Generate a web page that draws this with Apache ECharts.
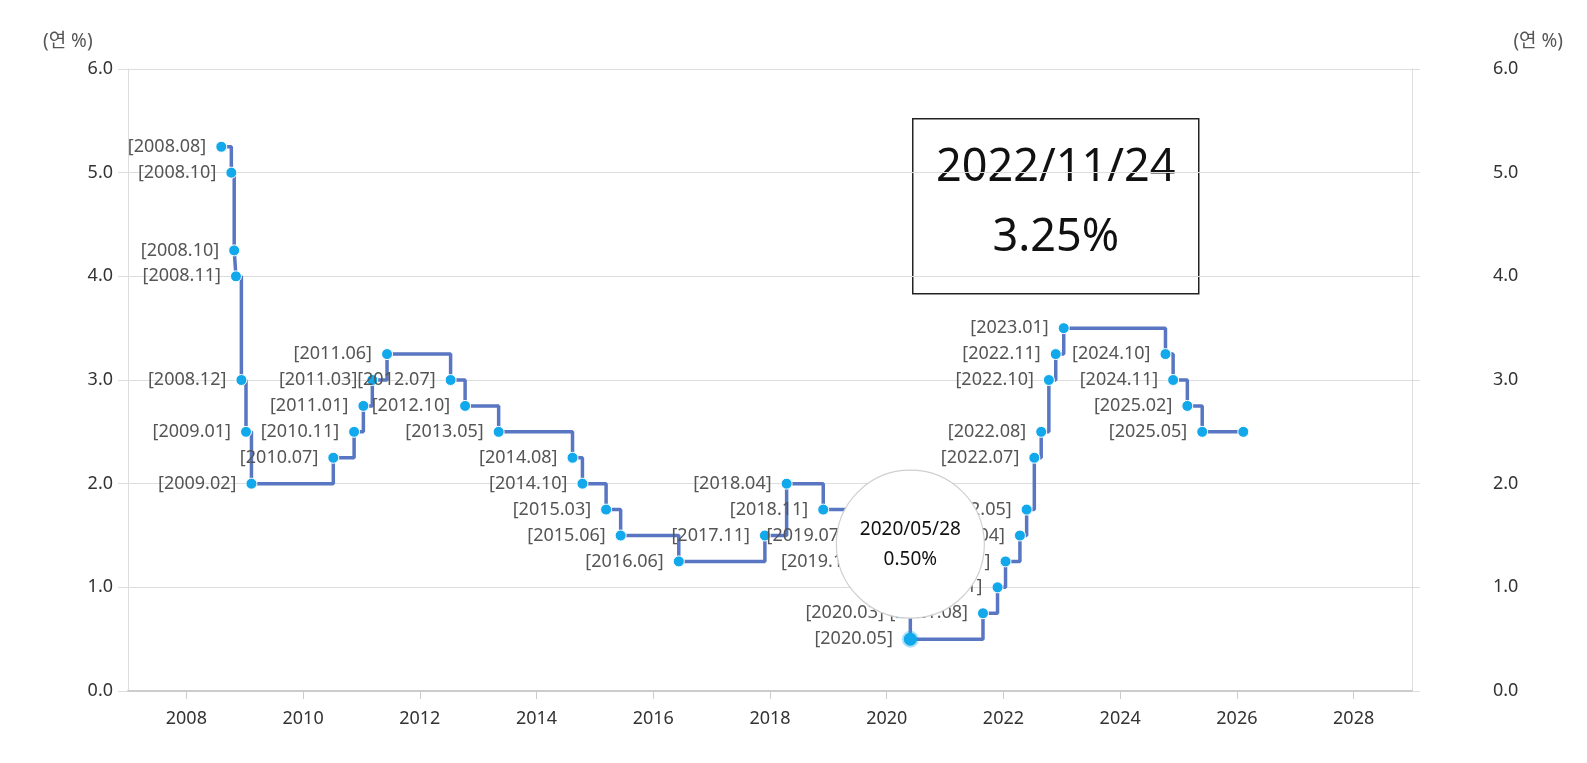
<!DOCTYPE html>
<html>
<head>
<meta charset="utf-8">
<script src="https://cdn.jsdelivr.net/npm/echarts@6/dist/echarts.min.js"></script>
<style>
  html, body { margin: 0; padding: 0; background: #fff; }
  #chart { width: 1587px; height: 763px; }
</style>
</head>
<body>
<div id="chart"></div>
<script>
// ---- data ----
const dates = [
  '2008-08-07','2008-10-09','2008-10-27','2008-11-07','2008-12-11','2009-01-09','2009-02-12',
  '2010-07-09','2010-11-16','2011-01-13','2011-03-10','2011-06-10','2012-07-12','2012-10-11',
  '2013-05-09','2014-08-14','2014-10-15','2015-03-12','2015-06-11','2016-06-09','2017-11-30',
  '2018-04-15','2018-11-30','2019-07-18','2019-10-16','2020-03-17','2020-05-28','2021-08-26',
  '2021-11-25','2022-01-14','2022-04-14','2022-05-26','2022-07-13','2022-08-25','2022-10-12',
  '2022-11-24','2023-01-13','2024-10-11','2024-11-28','2025-02-25','2025-05-29','2026-02-10'
];
const rates = [
  5.25, 5.00, 4.25, 4.00, 3.00, 2.50, 2.00,
  2.25, 2.50, 2.75, 3.00, 3.25, 3.00, 2.75,
  2.50, 2.25, 2.00, 1.75, 1.50, 1.25, 1.50,
  2.00, 1.75, 1.50, 1.25, 0.75, 0.50, 0.75,
  1.00, 1.25, 1.50, 1.75, 2.25, 2.50, 3.00,
  3.25, 3.50, 3.25, 3.00, 2.75, 2.50, 2.50
];
const pointLabels = [
  '[2008.08]','[2008.10]','[2008.10]','[2008.11]','[2008.12]','[2009.01]','[2009.02]',
  '[2010.07]','[2010.11]','[2011.01]','[2011.03]','[2011.06]','[2012.07]','[2012.10]',
  '[2013.05]','[2014.08]','[2014.10]','[2015.03]','[2015.06]','[2016.06]','[2017.11]',
  '[2018.04]','[2018.11]','[2019.07]','[2019.10]','[2020.03]','[2020.05]','[2021.08]',
  '[2021.11]','[2022.01]','[2022.04]','[2022.05]','[2022.07]','[2022.08]','[2022.10]',
  '[2022.11]','[2023.01]','[2024.10]','[2024.11]','[2025.02]','[2025.05]',''
];
const yearTicks = [2008, 2010, 2012, 2014, 2016, 2018, 2020, 2022, 2024, 2026, 2028];
const yAxisName = '(연 %)';
const circleDate = '2020-05-28';
const boxDate = '2022-11-24';

// ---- build ----
const FONT = "'Noto Sans', 'Noto Sans CJK KR', sans-serif";
// date string -> fractional year, so the value axis places it by calendar time
function toYear(s) {
  const [y, m, d] = s.split('-').map(Number);
  const start = Date.UTC(y, 0, 1), end = Date.UTC(y + 1, 0, 1);
  return y + (Date.UTC(y, m - 1, d) - start) / (end - start);
}
const circleIdx = dates.indexOf(circleDate);
const boxIdx = dates.indexOf(boxDate);
const fmtDate = d => d.replace(/-/g, '/');
const fmtRate = v => v.toFixed(2) + '%';

const seriesData = dates.map((d, i) => {
  const item = { value: [toYear(d), rates[i]] };
  if (i === circleIdx) {
    item.symbolSize = 13;
    item.itemStyle = { color: '#12a9ec', borderColor: 'rgba(18,169,236,0.35)', borderWidth: 4 };
  }
  return item;
});

const chart = echarts.init(document.getElementById('chart'));
chart.setOption({
  animation: false,
  textStyle: { fontFamily: FONT },
  grid: { left: 128, right: 175, top: 69, bottom: 72, containLabel: false },
  xAxis: {
    type: 'value',
    min: 2007,
    max: 2029,
    axisLine: { show: true, onZero: false, lineStyle: { color: '#cccccc', width: 2 } },
    axisTick: { show: true, length: 8, lineStyle: { color: '#cccccc' }, customValues: yearTicks },
    axisLabel: {
      customValues: yearTicks,
      formatter: v => String(v),
      fontSize: 18, color: '#333', margin: 19, fontFamily: FONT
    },
    splitLine: { show: false }
  },
  yAxis: [
    {
      type: 'value', position: 'left', min: 0, max: 6, interval: 1,
      axisLine: { show: true, lineStyle: { color: '#dddddd', width: 1 } },
      axisTick: { show: true, length: 10, lineStyle: { color: '#dddddd' } },
      axisLabel: { formatter: v => v.toFixed(1), fontSize: 18, color: '#333', margin: 15, fontFamily: FONT },
      splitLine: { show: true, lineStyle: { color: '#dddddd', width: 1 } }
    },
    {
      type: 'value', position: 'right', min: 0, max: 6, interval: 1,
      axisLine: { show: true, lineStyle: { color: '#dddddd', width: 1 } },
      axisTick: { show: true, length: 8, lineStyle: { color: '#dddddd' } },
      axisLabel: { formatter: v => v.toFixed(1), fontSize: 18, color: '#333', margin: 81, fontFamily: FONT },
      splitLine: { show: false }
    }
  ],
  graphic: [
    { type: 'text', left: 43, top: 32, style: { text: yAxisName, fontSize: 19, fill: '#555', fontFamily: FONT } },
    { type: 'text', right: 24, top: 32, style: { text: yAxisName, fontSize: 19, fill: '#555', fontFamily: FONT } },
    {
      type: 'group', left: 912, top: 118, z: 100,
      children: [
        { type: 'rect', shape: { x: 0, y: 0, width: 286, height: 175 },
          style: { fill: '#fff', stroke: '#222', lineWidth: 1.5 } },
        { type: 'text', x: 143, y: 49, style: { text: fmtDate(dates[boxIdx]), fontSize: 45, fill: '#111',
          align: 'center', verticalAlign: 'middle', fontFamily: FONT } },
        { type: 'text', x: 143, y: 119, style: { text: fmtRate(rates[boxIdx]), fontSize: 45, fill: '#111',
          align: 'center', verticalAlign: 'middle', fontFamily: FONT } }
      ]
    }
  ],
  series: [{
    type: 'line',
    step: 'end',
    yAxisIndex: 0,
    data: seriesData,
    symbol: 'circle',
    symbolSize: 11,
    itemStyle: { color: '#12a9ec', borderColor: '#ffffff', borderWidth: 1 },
    lineStyle: { color: '#5876c2', width: 3.5 },
    label: {
      show: true, position: 'left', distance: 9,
      formatter: p => pointLabels[p.dataIndex],
      fontSize: 18, color: '#555', fontFamily: FONT
    },
    markPoint: {
      z: 10,
      symbol: 'circle',
      symbolSize: 148,
      symbolOffset: [0, -95],
      itemStyle: { color: '#ffffff', borderColor: '#cfcfcf', borderWidth: 1.2 },
      label: {
        show: true, position: 'inside', color: '#111', fontSize: 19, lineHeight: 30, fontFamily: FONT,
        formatter: () => fmtDate(dates[circleIdx]) + '\n' + fmtRate(rates[circleIdx])
      },
      data: [{ coord: [toYear(dates[circleIdx]), rates[circleIdx]] }]
    }
  }]
});
</script>
</body>
</html>
